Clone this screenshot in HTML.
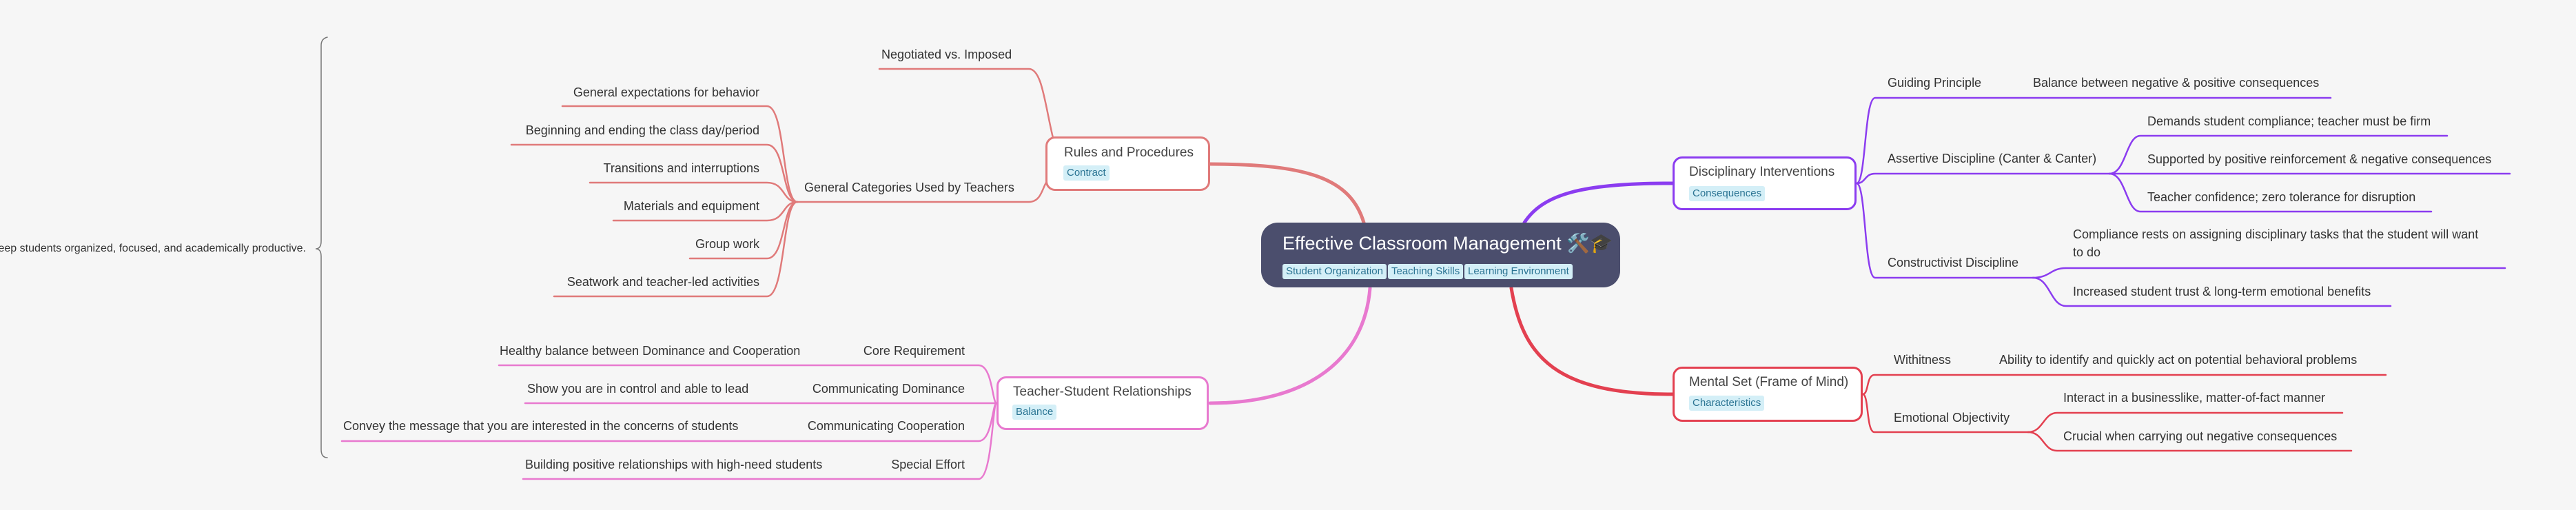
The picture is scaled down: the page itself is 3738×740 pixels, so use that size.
<!DOCTYPE html>
<html><head><meta charset="utf-8">
<style>
html,body{margin:0;padding:0;}
body{width:3738px;height:740px;background:#f6f6f6;position:relative;overflow:hidden;font-family:"Liberation Sans","Noto Sans CJK SC",sans-serif;color:#333;}
.t{position:absolute;font-size:18px;line-height:24px;height:24px;white-space:nowrap;color:#333;}
.r{text-align:right;}
.box{position:absolute;background:#fff;border:3px solid;border-radius:14px;box-sizing:border-box;}
.bt{position:absolute;font-size:19px;line-height:24px;color:#444;white-space:nowrap;}
.tag{position:absolute;background:#d4eff7;color:#2b7493;font-size:15px;line-height:22px;height:22px;padding:0 5px;border-radius:3px;white-space:nowrap;}
svg{position:absolute;left:0;top:0;}
.clip{position:absolute;left:0;top:349px;width:444px;height:24px;overflow:hidden;}
.clip div{position:absolute;right:0;top:0;font-size:16px;line-height:24px;white-space:nowrap;color:#333;}
</style></head><body>
<svg width="3738" height="740" fill="none" stroke-linecap="round">
<path d="M1979,323 C1960,260 1900,238 1756,238" stroke="#e07a7a" stroke-width="5"/>
<path d="M1988,418 C1980,520 1900,585 1756,585" stroke="#e879cf" stroke-width="5"/>
<path d="M2212,323 C2240,280 2300,266 2427,266" stroke="#8b3cf0" stroke-width="5"/>
<path d="M2193,418 C2210,520 2260,572 2427,572" stroke="#e34050" stroke-width="5"/>
<g stroke="#e07a7a" stroke-width="2.5">
<path d="M1276,100 H1493 C1512,100 1516,150 1528,200"/>
<path d="M1157,293 H1493 C1510,293 1512,275 1518,265"/>
<path d="M816,154 H1113 C1140,154 1135,293 1157,293"/>
<path d="M742,210 H1113 C1140,210 1135,293 1157,293"/>
<path d="M856,265 H1113 C1140,265 1135,293 1157,293"/>
<path d="M890,320 H1113 C1140,320 1135,293 1157,293"/>
<path d="M1001,375 H1113 C1140,375 1135,293 1157,293"/>
<path d="M804,430 H1113 C1140,430 1135,293 1157,293"/>
</g>
<g stroke="#e879cf" stroke-width="2.5">
<path d="M724,530 H1420 C1440,530 1440,585 1446,585"/>
<path d="M762,585 H1446"/>
<path d="M496,640 H1420 C1440,640 1440,585 1446,585"/>
<path d="M759,695 H1420 C1440,695 1440,585 1446,585"/>
</g>
<g stroke="#8b3cf0" stroke-width="2.5">
<path d="M2694,266 C2708,266 2705,142 2721,142 H3382"/>
<path d="M2694,266 C2708,266 2705,252 2721,252 H3061"/>
<path d="M3061,252 C3085,252 3085,197 3106,197 H3551"/>
<path d="M3061,252 H3642"/>
<path d="M3061,252 C3085,252 3085,307 3106,307 H3528"/>
<path d="M2694,266 C2708,266 2705,403 2721,403 H2950"/>
<path d="M2950,403 C2975,403 2975,389 2998,389 H3635"/>
<path d="M2950,403 C2975,403 2975,444 2998,444 H3469"/>
</g>
<g stroke="#e34050" stroke-width="2.5">
<path d="M2703,572 C2712,572 2708,544 2720,544 H3462"/>
<path d="M2703,572 C2712,572 2708,627 2720,627 H2943"/>
<path d="M2943,627 C2965,627 2965,599 2985,599 H3399"/>
<path d="M2943,627 C2965,627 2965,654 2985,654 H3412"/>
</g>
<path d="M475,54 Q466,56 466,66 V350 Q466,361 458,361 Q466,361 466,372 V652 Q466,664 475,664" stroke="#777" stroke-width="1.5"/>
</svg>

<div class="clip"><div>Effective classroom management strategies keep students organized, focused, and academically productive.</div></div>

<div class="box" style="left:1830px;top:323px;width:521px;height:94px;background:#4b4e6d;border:none;border-radius:24px;"></div>
<div class="bt" style="left:1861px;top:336px;font-size:27px;line-height:34px;color:#fff;">Effective Classroom Management 🛠️🎓</div>
<div class="tag" style="left:1861px;top:383px;">Student Organization</div>
<div class="tag" style="left:2014px;top:383px;">Teaching Skills</div>
<div class="tag" style="left:2125px;top:383px;">Learning Environment</div>

<div class="box" style="left:1517px;top:198px;width:239px;height:79px;border-color:#e07a7a;"></div>
<div class="bt" style="left:1544px;top:210px;">Rules and Procedures</div>
<div class="tag" style="left:1543px;top:240px;">Contract</div>
<div class="t" style="left:1279px;top:67px;">Negotiated vs. Imposed</div>
<div class="t" style="left:1167px;top:260px;">General Categories Used by Teachers</div>
<div class="t r" style="right:2636px;top:122px;">General expectations for behavior</div>
<div class="t r" style="right:2636px;top:177px;">Beginning and ending the class day/period</div>
<div class="t r" style="right:2636px;top:232px;">Transitions and interruptions</div>
<div class="t r" style="right:2636px;top:287px;">Materials and equipment</div>
<div class="t r" style="right:2636px;top:342px;">Group work</div>
<div class="t r" style="right:2636px;top:397px;">Seatwork and teacher-led activities</div>

<div class="box" style="left:1446px;top:546px;width:308px;height:78px;border-color:#e879cf;"></div>
<div class="bt" style="left:1470px;top:557px;">Teacher-Student Relationships</div>
<div class="tag" style="left:1469px;top:587px;">Balance</div>
<div class="t r" style="right:2338px;top:497px;">Core Requirement</div>
<div class="t" style="left:725px;top:497px;">Healthy balance between Dominance and Cooperation</div>
<div class="t r" style="right:2338px;top:552px;">Communicating Dominance</div>
<div class="t" style="left:765px;top:552px;">Show you are in control and able to lead</div>
<div class="t r" style="right:2338px;top:606px;">Communicating Cooperation</div>
<div class="t" style="left:498px;top:606px;">Convey the message that you are interested in the concerns of students</div>
<div class="t r" style="right:2338px;top:662px;">Special Effort</div>
<div class="t" style="left:762px;top:662px;">Building positive relationships with high-need students</div>

<div class="box" style="left:2427px;top:227px;width:267px;height:78px;border-color:#8b3cf0;"></div>
<div class="bt" style="left:2451px;top:238px;">Disciplinary Interventions</div>
<div class="tag" style="left:2451px;top:270px;">Consequences</div>
<div class="t" style="left:2739px;top:108px;">Guiding Principle</div>
<div class="t" style="left:2950px;top:108px;">Balance between negative &amp; positive consequences</div>
<div class="t" style="left:2739px;top:218px;">Assertive Discipline (Canter &amp; Canter)</div>
<div class="t" style="left:3116px;top:164px;">Demands student compliance; teacher must be firm</div>
<div class="t" style="left:3116px;top:219px;">Supported by positive reinforcement &amp; negative consequences</div>
<div class="t" style="left:3116px;top:274px;">Teacher confidence; zero tolerance for disruption</div>
<div class="t" style="left:2739px;top:369px;">Constructivist Discipline</div>
<div class="t" style="left:3008px;top:328px;">Compliance rests on assigning disciplinary tasks that the student will want</div>
<div class="t" style="left:3008px;top:354px;">to do</div>
<div class="t" style="left:3008px;top:411px;">Increased student trust &amp; long-term emotional benefits</div>

<div class="box" style="left:2427px;top:532px;width:276px;height:80px;border-color:#e34050;"></div>
<div class="bt" style="left:2451px;top:543px;">Mental Set (Frame of Mind)</div>
<div class="tag" style="left:2451px;top:574px;">Characteristics</div>
<div class="t" style="left:2748px;top:510px;">Withitness</div>
<div class="t" style="left:2901px;top:510px;">Ability to identify and quickly act on potential behavioral problems</div>
<div class="t" style="left:2748px;top:594px;">Emotional Objectivity</div>
<div class="t" style="left:2994px;top:565px;">Interact in a businesslike, matter-of-fact manner</div>
<div class="t" style="left:2994px;top:621px;">Crucial when carrying out negative consequences</div>
</body></html>
